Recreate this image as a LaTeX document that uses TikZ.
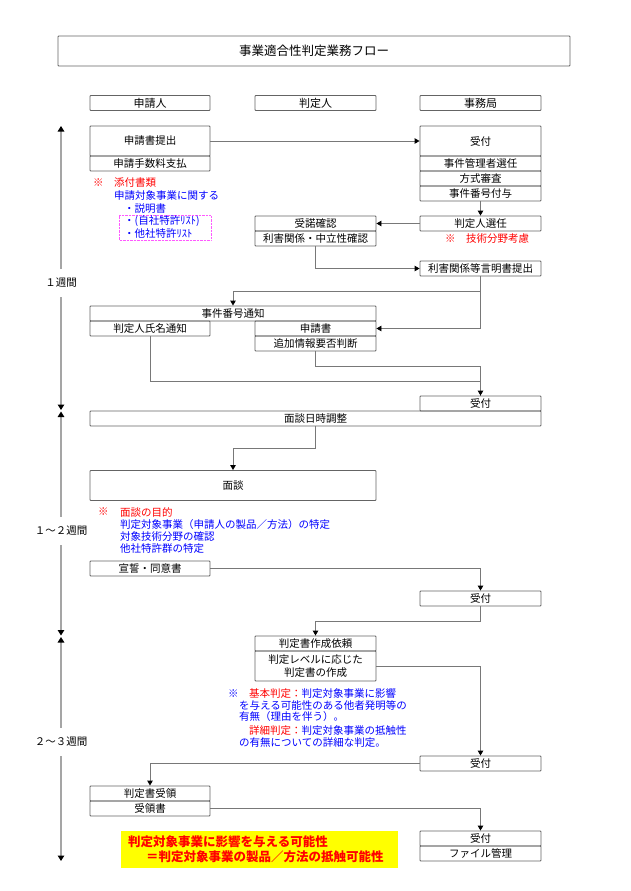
\documentclass[tikz,border=0pt]{standalone}
\usepackage{fontspec}
\setmainfont{Noto Sans CJK JP}
\usetikzlibrary{arrows.meta}
\definecolor{boxline}{RGB}{100,100,100}
\definecolor{connline}{RGB}{120,120,120}
\definecolor{timeline}{RGB}{165,165,165}
\definecolor{notered}{RGB}{255,0,0}
\definecolor{noteblue}{RGB}{0,0,255}
\definecolor{pinkdot}{RGB}{255,90,255}
\definecolor{hiyellow}{RGB}{255,255,0}
\begin{document}
\begin{tikzpicture}[x=1pt,y=-1pt,
  box/.style={draw=boxline, line width=0.9pt, rounded corners=0.8pt, inner sep=0pt,
    font=\fontsize{10.5}{12.7}\selectfont, text=black, align=center},
  colL/.style={box, minimum width=120pt},
  colM/.style={box, minimum width=121pt},
  colR/.style={box, minimum width=121pt},
  hsmall/.style={minimum height=15pt},
  hbig/.style={minimum height=30pt},
  conn/.style={draw=connline, line width=0.9pt},
  tip/.style={-{Triangle[length=5pt,width=5.5pt,color=black]}},
  tline/.style={draw=timeline, line width=1.2pt,
    {Triangle[length=5.5pt,width=6.5pt,color=black]}-{Triangle[length=5.5pt,width=6.5pt,color=black]}},
  tlabel/.style={fill=white, inner xsep=1pt, inner ysep=9pt, font=\fontsize{10.5}{12}\selectfont},
  note/.style={anchor=west, inner sep=0pt, font=\fontsize{10.5}{12}\selectfont},
  rednote/.style={note, text=notered},
  bluenote/.style={note, text=noteblue},
]
\useasboundingbox (0,0) rectangle (630,891);

% title and headers
\node[box, minimum width=512pt, minimum height=30pt, font=\fontsize{12.5}{14}\selectfont] (title) at (314,51) {事業適合性判定業務フロー};
\node[colL, hsmall, font=\fontsize{11}{13}\selectfont] (h1) at (150,103) {申請人};
\node[colM, hsmall, font=\fontsize{11}{13}\selectfont] (h2) at (315.5,103) {判定人};
\node[colR, hsmall, font=\fontsize{11}{13}\selectfont] (h3) at (480.5,103) {事務局};

% timeline
\coordinate (t0) at (61,126);
\coordinate (t1) at (61,410);
\coordinate (t2) at (61,411.5);
\coordinate (t3) at (61,635.5);
\coordinate (t4) at (61,637);
\coordinate (t5) at (61,861);
\draw[tline] (t0) -- (t1);
\draw[tline] (t2) -- (t3);
\draw[tline] (t4) -- (t5);
\node[tlabel] (w1) at (61,283) {１週間};
\node[tlabel] (w2) at (61,531) {１～２週間};
\node[tlabel] (w3) at (61,742) {２～３週間};

% boxes
\node[colL, hbig] (teishutsu) at (150,141) {申請書提出};
\node[colL, hsmall] (tesuryo) at (150,163.5) {申請手数料支払};
\node[colR, hbig] (uk1) at (480.5,141) {受付};
\node[colR, hsmall] (kanri) at (480.5,163.5) {事件管理者選任};
\node[colR, hsmall] (hoshiki) at (480.5,178.5) {方式審査};
\node[colR, hsmall] (bango) at (480.5,193.5) {事件番号付与};
\node[colR, hsmall] (senin) at (480.5,223.5) {判定人選任};
\node[colM, hsmall] (judaku) at (315.5,223.5) {受諾確認};
\node[colM, hsmall] (churitsu) at (315.5,238.5) {利害関係・中立性確認};
\node[colR, hsmall] (genmei) at (480.5,268.5) {利害関係等言明書提出};
\node[box, minimum width=286pt, hsmall] (tsuchi) at (233,313.5) {事件番号通知};
\node[colL, hsmall] (shimei) at (150,328.5) {判定人氏名通知};
\node[colM, hsmall] (shinseisho) at (315.5,328.5) {申請書};
\node[colM, hsmall] (tsuika) at (315.5,343.5) {追加情報要否判断};
\node[colR, hsmall] (uk2) at (480.5,403.5) {受付};
\node[box, minimum width=451pt, hsmall] (nichiji) at (315.5,418.5) {面談日時調整};
\node[box, minimum width=286pt, hbig] (mendan) at (233,485.5) {面談};
\node[colL, hsmall] (sensei) at (150,568.5) {宣誓・同意書};
\node[colR, hsmall] (uk3) at (480.5,598.5) {受付};
\node[colM, hsmall] (irai) at (315.5,643.5) {判定書作成依頼};
\node[colM, hbig] (sakusei) at (315.5,666) {判定レベルに応じた\\判定書の作成};
\node[colR, hsmall] (uk4) at (480.5,763.5) {受付};
\node[colL, hsmall] (juryo) at (150,793.5) {判定書受領};
\node[colL, hsmall] (juryosho) at (150,808.5) {受領書};
\node[colR, hsmall] (uk5) at (480.5,838.5) {受付};
\node[colR, hsmall] (filekanri) at (480.5,853.5) {ファイル管理};

% connectors
\draw[conn,tip] (teishutsu.east) -- (uk1.west);
\draw[conn,tip] (bango.south) -- (senin.north);
\draw[conn,tip] (senin.west) -- (judaku.east);
\draw[conn,tip] (churitsu.south) |- (genmei.west);
\coordinate (j1) at (480.5,291);
\draw[conn,tip] (genmei.south) -- (j1) -| (tsuchi.north);
\draw[conn,tip] (j1) |- (shinseisho.east);
\draw[conn] (shimei.south) -- ++(0,45) -| (uk2.north);
\draw[conn,tip] (tsuika.south) -- ++(0,15) -| (uk2.north);
\draw[conn,tip] (nichiji.south) -- ++(0,22) -| (mendan.north);
\draw[conn,tip] (sensei.east) -| (uk3.north);
\draw[conn,tip] (uk3.south) -- ++(0,15) -| (irai.north);
\draw[conn,tip] (sakusei.east) -| (uk4.north);
\draw[conn,tip] (uk4.west) -| (juryo.north);
\draw[conn,tip] (juryosho.east) -| (uk5.north);

% note 1
\draw[pinkdot, line width=0.8pt, dash pattern=on 0.7pt off 0.7pt] (119,215.5) rectangle (211,240);
\node[rednote] (n1a) at (93,183) {※};
\node[rednote] (n1b) at (114,183) {添付書類};
\node[bluenote] (n1c) at (114,196) {申請対象事業に関する};
\node[bluenote] (n1d) at (124,208.5) {・説明書};
\node[bluenote] (n1e) at (124,221.5) {・(自社特許ﾘｽﾄ)};
\node[bluenote] (n1f) at (124,233.5) {・他社特許ﾘｽﾄ};

% note 2
\node[rednote] (n2a) at (445,238.5) {※};
\node[rednote] (n2b) at (466,238.5) {技術分野考慮};

% note 3
\node[rednote] (n3a) at (98,512) {※};
\node[rednote] (n3b) at (120,512) {面談の目的};
\node[bluenote] (n3c) at (120,524.5) {判定対象事業（申請人の製品／方法）の特定};
\node[bluenote] (n3d) at (120,537) {対象技術分野の確認};
\node[bluenote] (n3e) at (120,549) {他社特許群の特定};

% note 4
\node[bluenote] (n4a) at (228,693.5) {※};
\node[bluenote] (n4b) at (249,693.5) {{\color{notered}基本判定：}判定対象事業に影響};
\node[bluenote] (n4c) at (239,705.5) {を与える可能性のある他者発明等の};
\node[bluenote] (n4d) at (239,717) {有無（理由を伴う）。};
\node[bluenote] (n4e) at (249,731) {{\color{notered}詳細判定：}判定対象事業の抵触性};
\node[bluenote] (n4f) at (239,743) {の有無についての詳細な判定。};

% highlighted conclusion
\node[fill=hiyellow, minimum width=277pt, minimum height=36.5pt, anchor=north west, inner sep=0pt] (ybox) at (121,831) {};
\node[note, text=notered, font=\fontsize{12.5}{14}\selectfont\bfseries] (y1) at (128,842) {判定対象事業に影響を与える可能性};
\node[note, text=notered, font=\fontsize{12.5}{14}\selectfont\bfseries] (y2) at (146,857) {＝判定対象事業の製品／方法の抵触可能性};
\end{tikzpicture}
\end{document}
